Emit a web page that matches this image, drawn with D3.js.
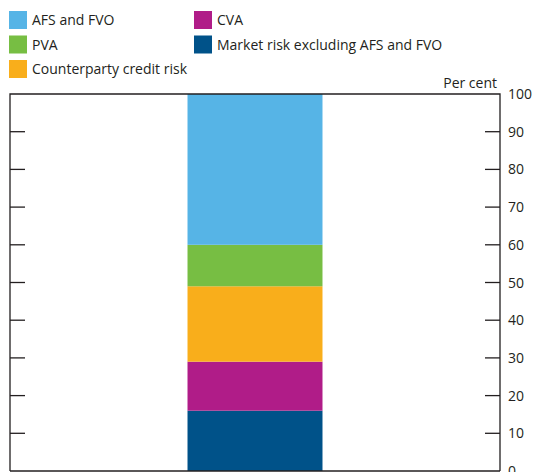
<!DOCTYPE html>
<html>
<head>
<meta charset="utf-8">
<script src="https://cdn.jsdelivr.net/npm/d3@7"></script>
<style>
  body { margin: 0; background: #fff; }
  text { font-family: "Open Sans", "Noto Sans", sans-serif; fill: #231f20; }
</style>
</head>
<body>
<svg id="chart" width="533" height="472"></svg>
<script>
// stacked single bar, bottom to top
const seriesNames = ["Market risk excluding AFS and FVO", "CVA", "Counterparty credit risk", "PVA", "AFS and FVO"];
const seriesValues = [16, 13, 20, 11, 40];
const seriesColors = ["#005289", "#b01c88", "#f9ae1b", "#77be43", "#56b4e6"];
const yTicks = [0, 10, 20, 30, 40, 50, 60, 70, 80, 90, 100];

// legend order as shown (two columns)
const legendItems = [
  { name: "AFS and FVO", col: 0, row: 0 },
  { name: "PVA", col: 0, row: 1 },
  { name: "Counterparty credit risk", col: 0, row: 2 },
  { name: "CVA", col: 1, row: 0 },
  { name: "Market risk excluding AFS and FVO", col: 1, row: 1 }
];

const svg = d3.select("#chart");
const mLeft = 10, mRight = 500, mTop = 94, mBottom = 471;

const y = d3.scaleLinear().domain([0, 100]).range([mBottom, mTop]);
const x = d3.scaleBand().domain(["bar"]).range([mLeft, mRight]).paddingInner(0).paddingOuter(1.315);

// bar segments
let acc = 0;
const segs = seriesValues.map((v, i) => {
  const s = { y0: acc, y1: acc + v, color: seriesColors[i] };
  acc += v;
  return s;
});
svg.append("g").selectAll("rect")
  .data(segs)
  .enter().append("rect")
  .attr("x", x("bar"))
  .attr("width", x.bandwidth())
  .attr("y", d => y(d.y1))
  .attr("height", d => y(d.y0) - y(d.y1))
  .attr("fill", d => d.color);

// frame
const frame = svg.append("g").attr("stroke", "#231f20").attr("stroke-width", 1.3).attr("fill", "none");
frame.append("path").attr("d", `M${mLeft},${mBottom}V${mTop}H${mRight}V${mBottom}`);
frame.append("line").attr("x1", mLeft).attr("x2", mRight).attr("y1", mBottom).attr("y2", mBottom);

// inner ticks left and right
const inner = yTicks.filter(t => t > 0 && t < 100);
frame.selectAll(".tl").data(inner).enter().append("line")
  .attr("x1", mLeft).attr("x2", mLeft + 15)
  .attr("y1", d => y(d)).attr("y2", d => y(d));
frame.selectAll(".tr").data(inner).enter().append("line")
  .attr("x1", mRight - 15).attr("x2", mRight)
  .attr("y1", d => y(d)).attr("y2", d => y(d));

// right tick labels
svg.append("g").selectAll("text")
  .data(yTicks)
  .enter().append("text")
  .attr("x", 508)
  .attr("y", d => y(d) + 5)
  .style("font-size", "14px")
  .text(d => d);

svg.append("text")
  .attr("x", 497).attr("y", 88)
  .attr("text-anchor", "end")
  .style("font-size", "14px")
  .text("Per cent");

// legend
const colorOf = name => seriesColors[seriesNames.indexOf(name)];
const lg = svg.append("g").selectAll("g")
  .data(legendItems)
  .enter().append("g")
  .attr("transform", d => `translate(${d.col ? 194 : 9},${11 + d.row * 24.5})`);
lg.append("rect").attr("width", 18).attr("height", 18).attr("fill", d => colorOf(d.name));
lg.append("text").attr("x", 23).attr("y", 14).style("font-size", "14px").text(d => d.name);
</script>
</body>
</html>
